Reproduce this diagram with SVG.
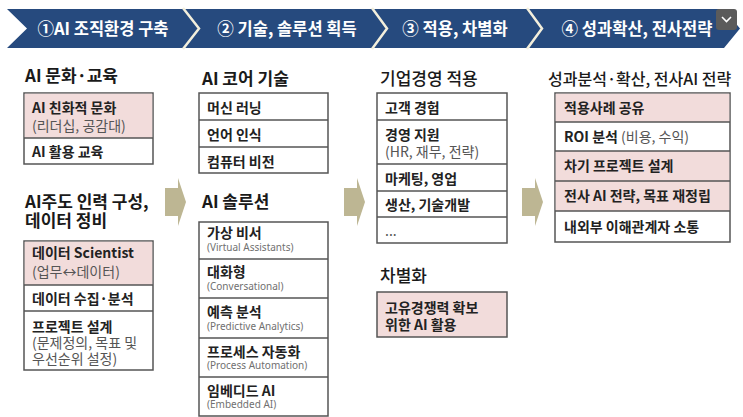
<svg xmlns="http://www.w3.org/2000/svg" width="743" height="417" viewBox="0 0 743 417">
<style>
  text { font-family: "Noto Sans CJK KR", "Noto Sans", sans-serif; }
  .ban { fill: #ffffff; font-weight: 700; font-size: 16.5px; text-anchor: middle; }
  .hd { fill: #1a1a1a; font-weight: 700; font-size: 17px; }
  .hdn { fill: #1a1a1a; font-weight: 500; font-size: 17px; }
  .t { fill: #222222; font-weight: 700; font-size: 14px; }
  .s { fill: #555555; font-weight: 400; font-size: 14px; }
  .en { fill: #707070; font-family: "Noto Sans", sans-serif; font-weight: 400; font-size: 10px; }
  .box { fill: #ffffff; stroke: #555555; stroke-width: 1.5; }
  .pink { fill: #f2dcdb; }
  .ln { stroke: #555555; stroke-width: 1.5; }
  .arr { fill: #bdb693; }
  .sep { fill: none; stroke: #f3efdc; stroke-width: 2.5; }
</style>
<defs>
  <polygon id="blockArrow" class="arr" points="0,10 13,10 13,0 21,24 13,48 13,38 0,38"/>
</defs>
<rect width="743" height="417" fill="#ffffff"/>

<g id="banner">
  <polygon points="7,9 724,9 740,28.5 724,48 7,48 27,28.5" fill="#264a7e"/>
  <polyline class="sep" points="183,8 199,28.5 183,49"/>
  <polyline class="sep" points="372,8 387,28.5 372,49"/>
  <polyline class="sep" points="527,8 542,28.5 527,49"/>
  <g id="stage1"><text class="ban" x="103" y="35">①AI 조직환경 구축</text></g>
  <g id="stage2"><text class="ban" x="287" y="35">② 기술, 솔루션 획득</text></g>
  <g id="stage3"><text class="ban" x="455" y="35">③ 적용, 차별화</text></g>
  <g id="stage4"><text class="ban" x="637" y="35">④ 성과확산, 전사전략</text></g>
  <g id="menu-button">
    <rect x="716" y="9" width="21" height="21" rx="3" fill="#5b5b5b"/>
    <polyline points="722,17 726.5,21.5 731,17" fill="none" stroke="#ffffff" stroke-width="1.6"/>
  </g>
</g>

<g id="connectors">
  <use href="#blockArrow" x="165" y="178"/>
  <use href="#blockArrow" x="344" y="178"/>
  <use href="#blockArrow" x="522" y="178"/>
</g>

<!-- Column 1 -->
<text class="hd" x="25" y="82">AI 문화·교육</text>
<g id="culture-box">
  <rect class="box" x="24" y="93" width="129" height="71"/>
  <rect class="pink" x="24.75" y="93.75" width="127.5" height="44.25"/>
  <line class="ln" x1="24" y1="138" x2="153" y2="138"/>
  <text class="t" x="32" y="113">AI 친화적 문화</text>
  <text class="s" x="32" y="131">(리더십, 공감대)</text>
  <text class="t" x="32" y="157">AI 활용 교육</text>
</g>
<text class="hd" x="25" y="208">AI주도 인력 구성,</text>
<text class="hd" x="25" y="227">데이터 정비</text>
<g id="data-box">
  <rect class="box" x="24" y="241" width="129" height="129"/>
  <rect class="pink" x="24.75" y="241.75" width="127.5" height="43.25"/>
  <line class="ln" x1="24" y1="285" x2="153" y2="285"/>
  <line class="ln" x1="24" y1="311" x2="153" y2="311"/>
  <text class="t" x="32" y="258">데이터 Scientist</text>
  <text class="s" x="32" y="277">(업무↔데이터)</text>
  <text class="t" x="32" y="304">데이터 수집·분석</text>
  <text class="t" x="32" y="332">프로젝트 설계</text>
  <text class="s" x="32" y="348">(문제정의, 목표 및</text>
  <text class="s" x="32" y="364">우선순위 설정)</text>
</g>

<!-- Column 2 -->
<text class="hd" x="202" y="85">AI 코어 기술</text>
<g id="core-box">
  <rect class="box" x="199" y="93" width="129" height="80"/>
  <line class="ln" x1="199" y1="120" x2="328" y2="120"/>
  <line class="ln" x1="199" y1="147" x2="328" y2="147"/>
  <text class="t" x="207" y="113">머신 러닝</text>
  <text class="t" x="207" y="140">언어 인식</text>
  <text class="t" x="207" y="167">컴퓨터 비전</text>
</g>
<text class="hd" x="202" y="208">AI 솔루션</text>
<g id="solution-box">
  <rect class="box" x="199" y="222" width="129" height="194"/>
  <line class="ln" x1="199" y1="259" x2="328" y2="259"/>
  <line class="ln" x1="199" y1="298" x2="328" y2="298"/>
  <line class="ln" x1="199" y1="338" x2="328" y2="338"/>
  <line class="ln" x1="199" y1="377" x2="328" y2="377"/>
  <text class="t" x="207" y="238">가상 비서</text>
  <text class="en" x="207" y="251">(Virtual Assistants)</text>
  <text class="t" x="207" y="277">대화형</text>
  <text class="en" x="207" y="290">(Conversational)</text>
  <text class="t" x="207" y="317">예측 분석</text>
  <text class="en" x="207" y="330">(Predictive Analytics)</text>
  <text class="t" x="207" y="357">프로세스 자동화</text>
  <text class="en" x="207" y="369">(Process Automation)</text>
  <text class="t" x="207" y="396">임베디드 AI</text>
  <text class="en" x="207" y="408">(Embedded AI)</text>
</g>

<!-- Column 3 -->
<text class="hdn" x="380" y="85">기업경영 적용</text>
<g id="apply-box">
  <rect class="box" x="377" y="93" width="130" height="150"/>
  <line class="ln" x1="377" y1="120" x2="507" y2="120"/>
  <line class="ln" x1="377" y1="164" x2="507" y2="164"/>
  <line class="ln" x1="377" y1="191" x2="507" y2="191"/>
  <line class="ln" x1="377" y1="217" x2="507" y2="217"/>
  <text class="t" x="385" y="113">고객 경험</text>
  <text class="t" x="385" y="140">경영 지원</text>
  <text class="s" x="385" y="157">(HR, 재무, 전략)</text>
  <text class="t" x="385" y="184">마케팅, 영업</text>
  <text class="t" x="385" y="210">생산, 기술개발</text>
  <text class="s" x="385" y="236">...</text>
</g>
<text class="hdn" x="380" y="282">차별화</text>
<g id="diff-box">
  <rect class="box pink" x="377" y="292" width="130" height="45" style="fill:#f2dcdb"/>
  <text class="t" x="385" y="313">고유경쟁력 확보</text>
  <text class="t" x="385" y="330">위한 AI 활용</text>
</g>

<!-- Column 4 -->
<text class="hdn" x="548" y="85" style="font-size:16px">성과분석·확산, 전사AI 전략</text>
<g id="result-box">
  <rect class="box" x="555" y="93" width="175" height="149"/>
  <rect class="pink" x="555.75" y="93.75" width="173.5" height="28.25"/>
  <rect class="pink" x="555.75" y="151" width="173.5" height="60"/>
  <line class="ln" x1="555" y1="122" x2="730" y2="122"/>
  <line class="ln" x1="555" y1="151" x2="730" y2="151"/>
  <line class="ln" x1="555" y1="181" x2="730" y2="181"/>
  <line class="ln" x1="555" y1="211" x2="730" y2="211"/>
  <text class="t" x="564" y="113">적용사례 공유</text>
  <text class="t" x="564" y="142">ROI 분석 <tspan class="s">(비용, 수익)</tspan></text>
  <text class="t" x="564" y="171">차기 프로젝트 설계</text>
  <text class="t" x="564" y="201">전사 AI 전략, 목표 재정립</text>
  <text class="t" x="564" y="232">내외부 이해관계자 소통</text>
</g>
</svg>
